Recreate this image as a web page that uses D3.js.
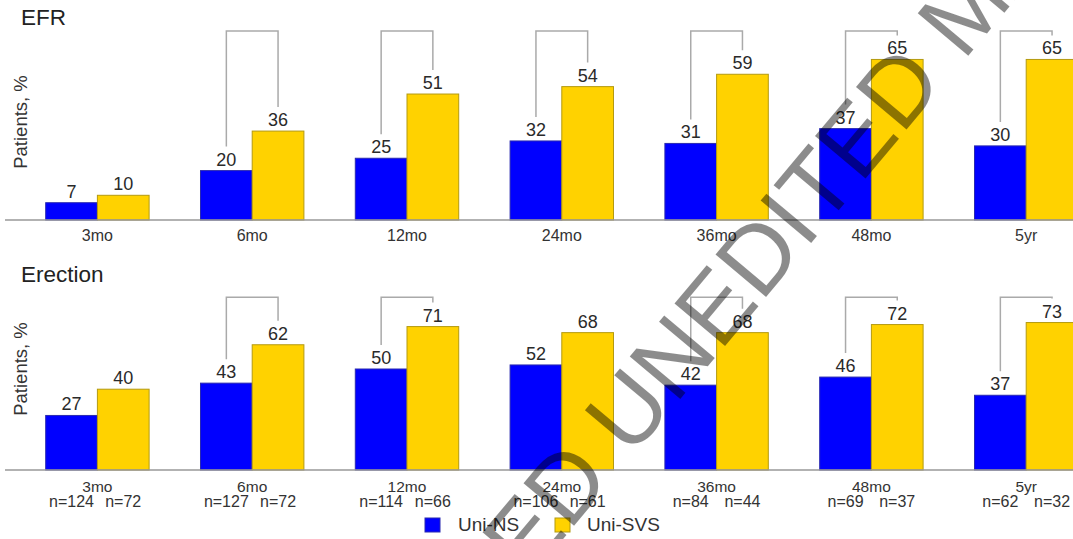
<!DOCTYPE html>
<html><head><meta charset="utf-8">
<script src="https://cdn.jsdelivr.net/npm/d3@7"></script>
<style>
html,body{margin:0;padding:0;background:#fff;}
svg{display:block;}
text{font-family:"Liberation Sans",Arial,sans-serif;}
</style></head>
<body>
<svg id="chart" width="1073" height="539"></svg>
<script>
const categories = ['3mo','6mo','12mo','24mo','36mo','48mo','5yr'];
const seriesNames = ['Uni-NS','Uni-SVS'];
const efrNS  = [7,20,25,32,31,37,30];
const efrSVS = [10,36,51,54,59,65,65];
const ereNS  = [27,43,50,52,42,46,37];
const ereSVS = [40,62,71,68,68,72,73];
const nNS    = [124,127,114,106,84,69,62];
const nSVS   = [72,72,66,61,44,37,32];
const efrBracket = [false,true,true,true,true,true,true];
const ereBracket = [false,true,true,false,true,true,true];
const panelTitles = ['EFR','Erection'];
const yTitle = 'Patients, %';
const watermark = ['ACCEPTED','UNEDITED','MANUSCRIPT'];

const colors = {NS:'#0000ff', SVS:'#ffd200'};
const strokes = {NS:'#2a2ab0', SVS:'#b49a10'};
const svg = d3.select('#chart');
const W = 1073, H = 539;

const x = d3.scaleBand().domain(categories).range([20, 1103.6]).paddingInner(0.332).paddingOuter(0.166);
const xs = d3.scaleBand().domain(['NS','SVS']).range([0, x.bandwidth()]);

const panels = [
  {title: panelTitles[0], ns: efrNS, svs: efrSVS, br: efrBracket, base: 220, ppu: 2.47, brLevel: 76.5, titleY: 25, yTitleY: 122, tickY: 241, nLabels: false},
  {title: panelTitles[1], ns: ereNS, svs: ereSVS, br: ereBracket, base: 470, ppu: 2.02, brLevel: 85.5, titleY: 281.5, yTitleY: 369, tickY: 492, nLabels: true}
];

panels.forEach(p => {
  const y = d3.scaleLinear().domain([0,100]).range([p.base, p.base - 100*p.ppu]);
  const g = svg.append('g');
  g.append('text').attr('x', 21).attr('y', p.titleY).attr('font-size', 22.5).attr('fill', '#222').text(p.title);
  g.append('text').attr('transform', `translate(27,${p.yTitleY}) rotate(-90)`).attr('text-anchor','middle')
    .attr('font-size', 18.5).attr('fill', '#333').text(yTitle);
  const rows = categories.map((c,i) => ({c, i, NS: p.ns[i], SVS: p.svs[i]}));
  rows.forEach(r => {
    ['NS','SVS'].forEach(k => {
      g.append('rect').attr('x', x(r.c) + xs(k)).attr('y', y(r[k]))
        .attr('width', xs.bandwidth()).attr('height', y(0) - y(r[k]))
        .attr('fill', colors[k]).attr('stroke', strokes[k]).attr('stroke-width', 1);
      g.append('text').attr('x', x(r.c) + xs(k) + xs.bandwidth()/2).attr('y', y(r[k]) - 5)
        .attr('text-anchor','middle').attr('font-size', 18).attr('fill', '#2a2a2a').text(r[k]);
    });
    if (p.br[r.i]) {
      const xl = x(r.c) + xs('NS') + xs.bandwidth()/2;
      const xr = x(r.c) + xs('SVS') + xs.bandwidth()/2;
      const yt = y(p.brLevel);
      g.append('path').attr('d', `M${xl},${y(r.NS)-24}V${yt}H${xr}V${y(r.SVS)-24}`)
        .attr('fill','none').attr('stroke','#aaa').attr('stroke-width',1.5);
    }
    g.append('text').attr('x', x(r.c) + x.bandwidth()/2).attr('y', p.tickY)
      .attr('text-anchor','middle').attr('font-size', p.nLabels ? 15.5 : 16).attr('fill', '#333').text(r.c);
    if (p.nLabels) {
      g.append('text').attr('x', x(r.c) + xs('NS') + xs.bandwidth()/2).attr('y', p.tickY + 15)
        .attr('text-anchor','middle').attr('font-size', 16).attr('fill', '#333').text('n=' + nNS[r.i]);
      g.append('text').attr('x', x(r.c) + xs('SVS') + xs.bandwidth()/2).attr('y', p.tickY + 15)
        .attr('text-anchor','middle').attr('font-size', 16).attr('fill', '#333').text('n=' + nSVS[r.i]);
    }
  });
  g.append('line').attr('x1', 5).attr('x2', W).attr('y1', y(0)).attr('y2', y(0))
    .attr('stroke', '#999').attr('stroke-width', 1.5);
});

// legend
const leg = svg.append('g');
[{k:'NS', sx:425, tx:458}, {k:'SVS', sx:555, tx:587}].forEach((d,i) => {
  leg.append('rect').attr('x', d.sx).attr('y', 518).attr('width', 15).attr('height', 14)
    .attr('fill', colors[d.k]).attr('stroke', strokes[d.k]).attr('stroke-width', 1);
  leg.append('text').attr('x', d.tx).attr('y', 530.5).attr('font-size', 19).attr('fill', '#333').text(seriesNames[i]);
});

// watermark
const fs = 96;
const wm = svg.append('g').attr('transform', 'translate(762,248) rotate(-50)').attr('fill', 'rgba(0,0,0,0.45)');
const mid = wm.append('text').attr('text-anchor','middle').attr('y', fs*0.36).attr('font-size', fs).text(watermark[1]);
const half = mid.node().getComputedTextLength()/2;
const sp = fs*0.278;
wm.append('text').attr('text-anchor','end').attr('x', -half - sp).attr('y', fs*0.36).attr('font-size', fs).text(watermark[0]);
wm.append('text').attr('text-anchor','start').attr('x', half + sp).attr('y', fs*0.36).attr('font-size', fs).text(watermark[2]);
</script>
</body></html>
